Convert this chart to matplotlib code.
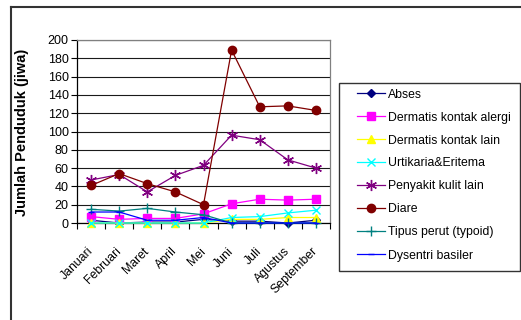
import matplotlib
matplotlib.use("Agg")
import matplotlib.pyplot as plt
from matplotlib.patches import Rectangle
from matplotlib.lines import Line2D

plt.rcParams['font.family'] = ['Liberation Sans', 'DejaVu Sans']

months = ["Januari", "Februari", "Maret", "April", "Mei", "Juni", "Juli",
          "Agustus", "September"]

abses = [3, 0, 1, 1, 4, 2, 2, 0, 3]
dermatis_alergi = [7, 4, 5, 5, 10, 21, 26, 25, 26]
dermatis_lain = [0, 0, 0, 0, 0, 4, 4, 6, 6]
urtikaria = [0, 0, 0, 0, 0, 6, 7, 11, 14]
penyakit_kulit = [47, 53, 34, 52, 63, 96, 91, 69, 60]
diare = [41, 54, 43, 34, 20, 189, 127, 128, 123]
tipus = [15, 13, 16, 12, 9, 0, 0, 0, 0]
dysentri = [12, 12, 3, 3, 6, 0, 0, 0, 0]

series = [
    ("Abses", abses, "#000080", "D", 4.5),
    ("Dermatis kontak alergi", dermatis_alergi, "#FF00FF", "s", 6),
    ("Dermatis kontak lain", dermatis_lain, "#FFFF00", "^", 6),
    ("Urtikaria&Eritema", urtikaria, "#00FFFF", "x", 6),
    ("Penyakit kulit lain", penyakit_kulit, "#800080", (6, 2, 0), 8),
    ("Diare", diare, "#800000", "o", 6),
    ("Tipus perut (typoid)", tipus, "#008080", "+", 7),
    ("Dysentri basiler", dysentri, "#0000FF", "_", 5),
]

W, H = 521, 320
fig = plt.figure(figsize=(W / 100, H / 100), dpi=100)
fig.patch.set_facecolor("white")


def fx(px):
    return px / W


def fy(py):
    return 1 - py / H


ax = fig.add_axes([fx(77), fy(223), fx(330) - fx(77), fy(40) - fy(223)])

x = list(range(len(months)))
handles = []
for name, vals, col, mk, ms in series:
    h, = ax.plot(x, vals, color=col, lw=0.9, marker=mk, markersize=ms,
                 markerfacecolor=col, markeredgecolor=col, markeredgewidth=1.0,
                 label=name, clip_on=False, zorder=3)
    handles.append(h)

ax.set_xlim(-0.5, len(months) - 0.5)
ax.set_ylim(0, 200)
ax.set_yticks(range(0, 201, 20))
ax.tick_params(axis='y', labelsize=9, length=4, width=0.8, direction='out',
               pad=2, color='black')
ax.yaxis.grid(True, color='#1a1a1a', lw=0.8)
ax.set_axisbelow(True)

# category labels centred on points, tick marks between categories
ax.set_xticks(x)
ax.set_xticklabels(months, rotation=45, ha='right', va='center',
                   rotation_mode='anchor', fontsize=8.8)
ax.tick_params(axis='x', which='major', length=0, pad=19)
ax.set_xticks([i - 0.5 for i in range(len(months) + 1)], minor=True)
ax.tick_params(axis='x', which='minor', length=4, width=0.8, direction='out',
               color='black')

for s in ("top", "right"):
    ax.spines[s].set_color('#808080')
    ax.spines[s].set_linewidth(0.9)
for s in ("left", "bottom"):
    ax.spines[s].set_color('black')
    ax.spines[s].set_linewidth(0.9)

fig.text(fx(22), fy(132), "Jumlah Penduduk (jiwa)", rotation=90,
         fontsize=10.5, fontweight='bold', ha='center', va='center')

# outer chart frame
fig.add_artist(Line2D([fx(11), fx(11)], [fy(7), 0], color='#333333', lw=1.5))
fig.add_artist(Line2D([fx(11), 1], [fy(7), fy(7)], color='#333333', lw=1.5))

# legend box
fig.add_artist(Rectangle((fx(339), fy(271)), fx(520) - fx(339), fy(83) - fy(271),
                         fill=False, edgecolor='#333333', lw=1.0))
fig.legend(handles=handles, loc='upper left',
           bbox_to_anchor=(fx(357), fy(88.5)), frameon=False, fontsize=8.8,
           handlelength=2.3, handletextpad=0.25, labelspacing=0.9,
           borderpad=0, borderaxespad=0)

fig.savefig("out.png", dpi=100, facecolor='white')
